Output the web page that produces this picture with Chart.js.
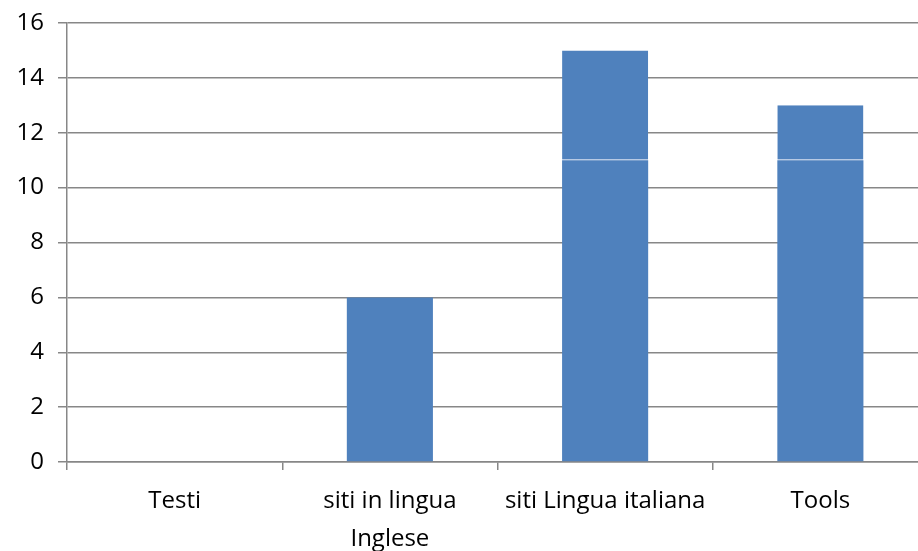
<!DOCTYPE html>
<html><head><meta charset="utf-8">
<script src="https://cdn.jsdelivr.net/npm/chart.js@4/dist/chart.umd.min.js"></script>
<style>html,body{margin:0;padding:0;background:#fff;overflow:hidden}#wrap{width:928px;height:551px;position:relative}</style>
</head><body><div id="wrap"><canvas id="c"></canvas></div>
<script>
const categories = [["Testi"], ["siti in lingua", "Inglese"], ["siti Lingua italiana"], ["Tools"]];
const seriesLower = [0, 6, 11, 11];
const seriesUpper = [0, 0, 4, 2];
const yTicks = [0, 2, 4, 6, 8, 10, 12, 14, 16];

const blue = '#4F81BD';
const gridCol = '#878787';
const fontFam = '"Open Sans", sans-serif';
new Chart(document.getElementById('c'), {
  type: 'bar',
  data: {
    labels: categories,
    datasets: [
      {data: seriesLower, backgroundColor: blue, borderWidth: 0, barPercentage: 0.4, categoryPercentage: 1},
      {data: seriesUpper, backgroundColor: blue, borderColor: '#d0dcee', borderWidth: {bottom: 1, top: 0, left: 0, right: 0}, borderSkipped: false, barPercentage: 0.4, categoryPercentage: 1}
    ]
  },
  options: {
    responsive: true, maintainAspectRatio: false, animation: false,
    layout: {padding: {top: 23, right: 0, bottom: 0, left: 0}},
    plugins: {legend: {display: false}, tooltip: {enabled: false}},
    scales: {
      x: {
        stacked: true,
        offset: true,
        afterFit: s => { s.height = 89; s.paddingLeft = 0; s.paddingRight = 0; },
        grid: {offset: true, drawOnChartArea: false, drawTicks: true, tickLength: 8, color: gridCol, lineWidth: 1.5},
        border: {display: true, color: gridCol, width: 1.5},
        ticks: {color: '#000', font: {family: fontFam, size: 24, lineHeight: 1.6}, padding: 12, maxRotation: 0, autoSkip: false}
      },
      y: {
        stacked: true,
        min: 0, max: 16,
        afterFit: s => { s.width = 67; s.paddingTop = 0; s.paddingBottom = 0; },
        afterBuildTicks: s => { s.ticks = yTicks.map(v => ({value: v})); },
        grid: {color: gridCol, lineWidth: 1.5, tickLength: 9},
        border: {display: true, color: gridCol, width: 1.5},
        ticks: {color: '#000', font: {family: fontFam, size: 24}, padding: 14}
      }
    }
  }
});
</script></body></html>
